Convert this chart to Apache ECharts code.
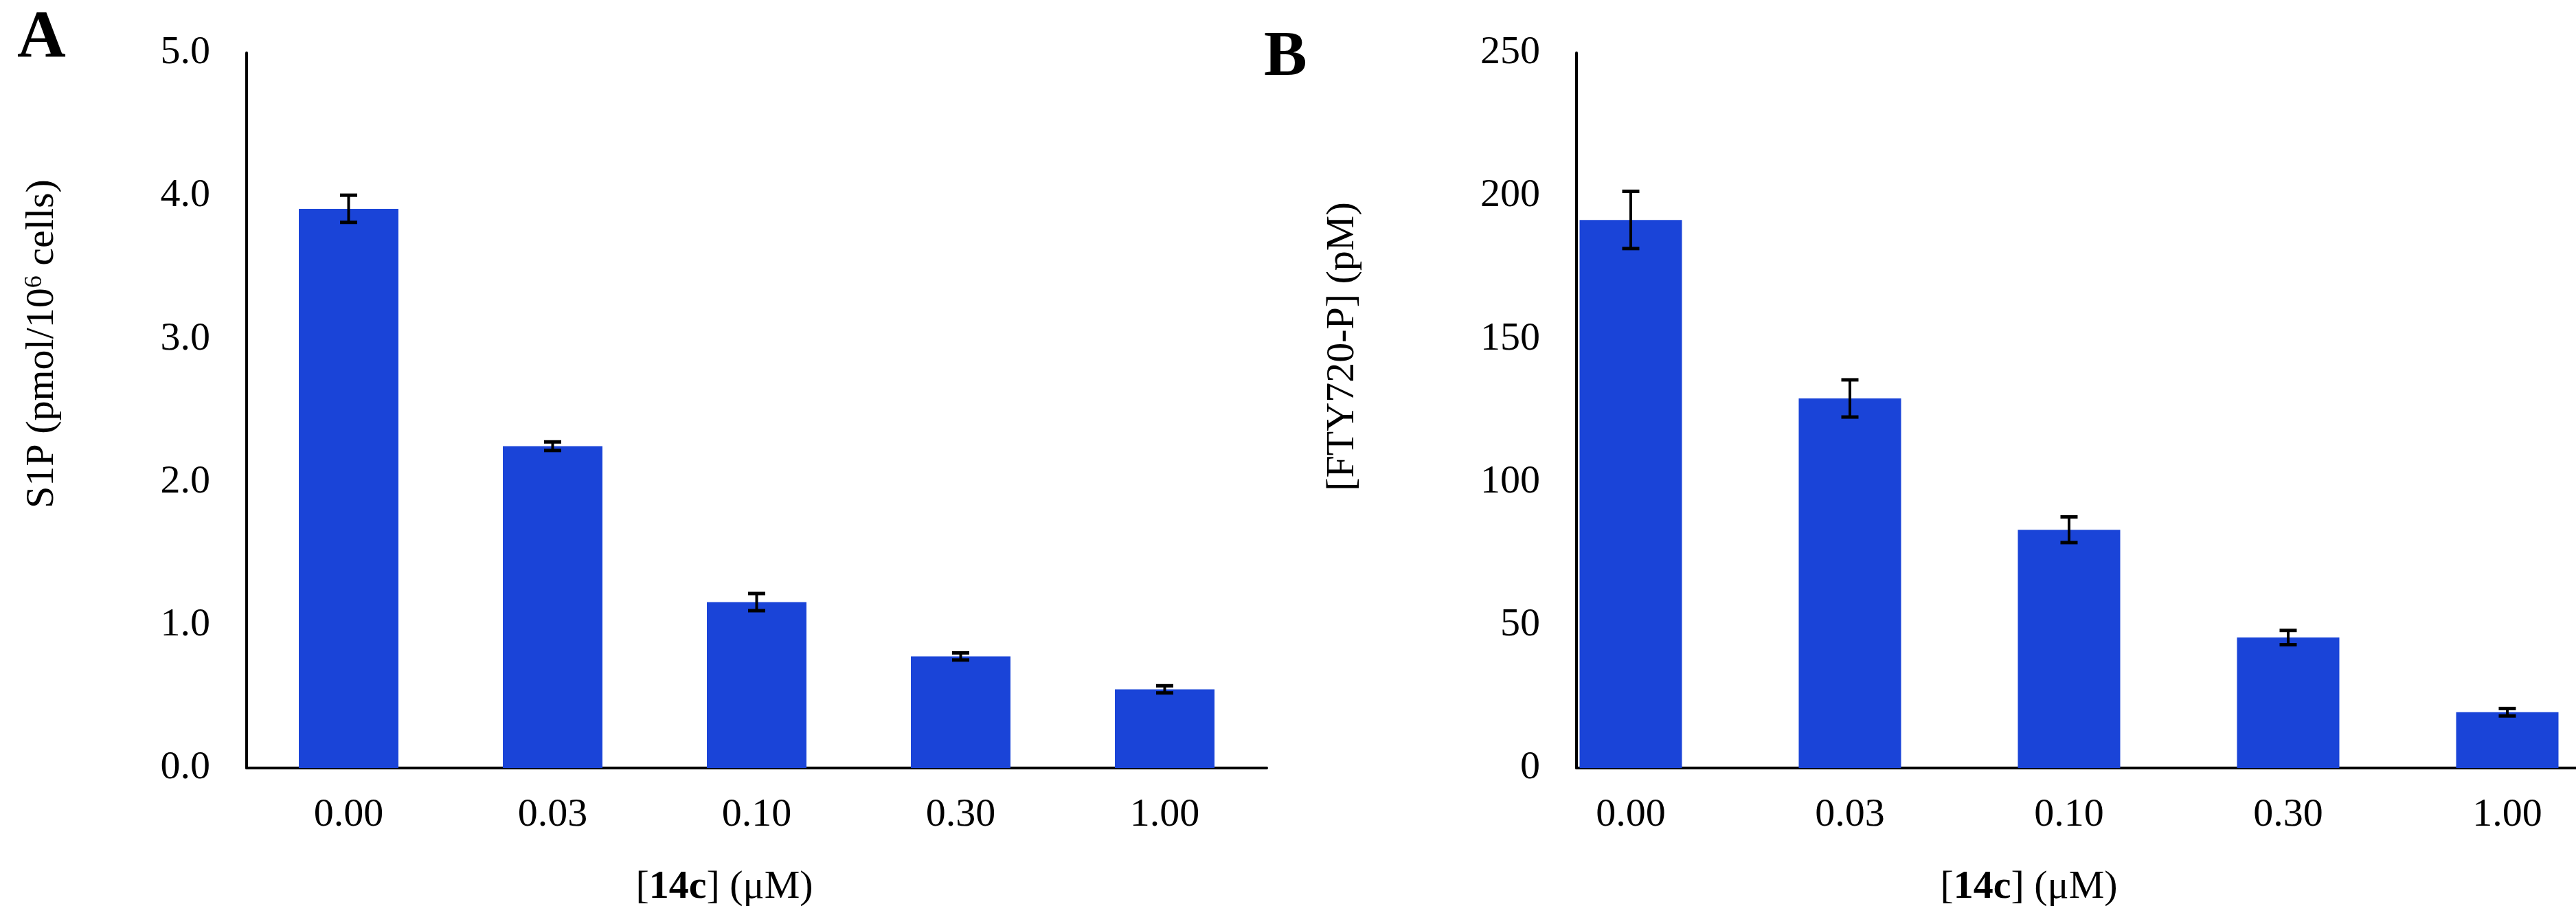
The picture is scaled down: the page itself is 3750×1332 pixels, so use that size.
<!DOCTYPE html>
<html>
<head>
<meta charset="utf-8">
<script src="https://cdn.jsdelivr.net/npm/echarts@6/dist/echarts.min.js"></script>
<style>
  html, body { margin: 0; padding: 0; background: #ffffff; }
  #chart { width: 3750px; height: 1332px; }
</style>
</head>
<body>
<div id="chart"></div>
<script>
// ---- data ----
const categories = ['0.00', '0.03', '0.10', '0.30', '1.00'];
const s1pValues = [3.91, 2.25, 1.16, 0.78, 0.55];
const s1pErrors = [0.095, 0.03, 0.06, 0.025, 0.025];
const ftyValues = [191.6, 129.2, 83.3, 45.6, 19.5];
const ftyErrors = [10, 6.5, 4.5, 2.5, 1.3];
const s1pTicks = ['0.0', '1.0', '2.0', '3.0', '4.0', '5.0'];
const ftyTicks = ['0', '50', '100', '150', '200', '250'];

const FONT = 'Liberation Serif';
const BAR_COLOR = '#1a44d8';

function errData(vals, errs) {
  return vals.map((v, i) => [i, v - errs[i], v + errs[i]]);
}

function errorItem(params, api) {
  const x = api.value(0);
  const top = api.coord([x, api.value(2)]);
  const bot = api.coord([x, api.value(1)]);
  const hw = 12.5;
  const st = { stroke: '#000', lineWidth: 4 };
  return {
    type: 'group',
    children: [
      { type: 'line', shape: { x1: top[0], y1: top[1], x2: bot[0], y2: bot[1] }, style: st },
      { type: 'line', shape: { x1: top[0] - hw, y1: top[1], x2: top[0] + hw, y2: top[1] }, style: { stroke: '#000', lineWidth: 5 } },
      { type: 'line', shape: { x1: bot[0] - hw, y1: bot[1], x2: bot[0] + hw, y2: bot[1] }, style: { stroke: '#000', lineWidth: 5 } }
    ]
  };
}

const labelStyle = { fontFamily: FONT, fontSize: 58, color: '#000' };
const lineStyle = { color: '#000', width: 4 };

const chart = echarts.init(document.getElementById('chart'), null, { renderer: 'canvas' });

const option = {
  backgroundColor: '#ffffff',
  animation: false,
  title: [
    { text: 'A', left: 25, top: 8, padding: 0, textStyle: { fontFamily: FONT, fontSize: 98, fontWeight: 'bold', color: '#000' } },
    { text: 'B', left: 1840, top: 38, padding: 0, textStyle: { fontFamily: FONT, fontSize: 94, fontWeight: 'bold', color: '#000' } }
  ],
  grid: [
    { left: 359, width: 1485, top: 77, bottom: 214, containLabel: false },
    { left: 2295, right: 0, top: 77, bottom: 214, containLabel: false }
  ],
  xAxis: [
    {
      type: 'category', gridIndex: 0, data: categories, boundaryGap: true,
      axisLine: { show: true, onZero: false, lineStyle: lineStyle },
      axisTick: { show: false },
      splitLine: { show: false },
      axisLabel: Object.assign({ margin: 40 }, labelStyle),
      name: '[{b|14c}] (μM)', nameLocation: 'middle', nameGap: 145,
      nameTextStyle: Object.assign({ padding: [0, 94, 0, 0], rich: { b: { fontFamily: FONT, fontSize: 58, fontWeight: 'bold', color: '#000' } } }, labelStyle)
    },
    {
      type: 'value', gridIndex: 1, min: -0.2476, max: 4.3135,
      axisLine: { show: true, onZero: false, lineStyle: lineStyle },
      axisTick: { show: false },
      splitLine: { show: false },
      axisLabel: Object.assign({
        margin: 40,
        customValues: [0, 1, 2, 3, 4],
        formatter: function (v) { return categories[Math.round(v)]; }
      }, labelStyle),
      name: '[{b|14c}] (μM)', nameLocation: 'middle', nameGap: 145,
      nameTextStyle: Object.assign({ padding: [0, 138, 0, 0], rich: { b: { fontFamily: FONT, fontSize: 58, fontWeight: 'bold', color: '#000' } } }, labelStyle)
    }
  ],
  yAxis: [
    {
      type: 'value', gridIndex: 0, min: 0, max: 5, interval: 1,
      axisLine: { show: true, onZero: false, lineStyle: lineStyle },
      axisTick: { show: false },
      splitLine: { show: false },
      axisLabel: Object.assign({ margin: 53, formatter: function (v) { return s1pTicks[Math.round(v)]; } }, labelStyle),
      name: 'S1P (pmol/10{s|6} cells)', nameLocation: 'middle', nameRotate: 90, nameGap: 268,
      nameTextStyle: Object.assign({ padding: [0, 0, 0, 194], rich: { s: { fontFamily: FONT, fontSize: 36, color: '#000', verticalAlign: 'top' } } }, labelStyle)
    },
    {
      type: 'value', gridIndex: 1, min: 0, max: 250, interval: 50,
      axisLine: { show: true, onZero: false, lineStyle: lineStyle },
      axisTick: { show: false },
      splitLine: { show: false },
      axisLabel: Object.assign({ margin: 53, formatter: function (v) { return ftyTicks[Math.round(v / 50)]; } }, labelStyle),
      name: '[FTY720-P] (pM)', nameLocation: 'middle', nameRotate: 90, nameGap: 311,
      nameTextStyle: Object.assign({ padding: [0, 0, 0, 186] }, labelStyle)
    }
  ],
  series: [
    {
      type: 'bar', xAxisIndex: 0, yAxisIndex: 0, data: s1pValues, barWidth: 145,
      itemStyle: { color: BAR_COLOR }, silent: true
    },
    {
      type: 'custom', xAxisIndex: 0, yAxisIndex: 0, data: errData(s1pValues, s1pErrors),
      renderItem: errorItem, encode: { x: 0, y: [1, 2] }, z: 10, silent: true
    },
    {
      type: 'bar', xAxisIndex: 1, yAxisIndex: 1, data: ftyValues.map((v, i) => [i, v]), barWidth: 149,
      itemStyle: { color: BAR_COLOR }, silent: true
    },
    {
      type: 'custom', xAxisIndex: 1, yAxisIndex: 1, data: errData(ftyValues, ftyErrors),
      renderItem: errorItem, encode: { x: 0, y: [1, 2] }, z: 10, silent: true
    }
  ]
};

chart.setOption(option);
</script>
</body>
</html>
